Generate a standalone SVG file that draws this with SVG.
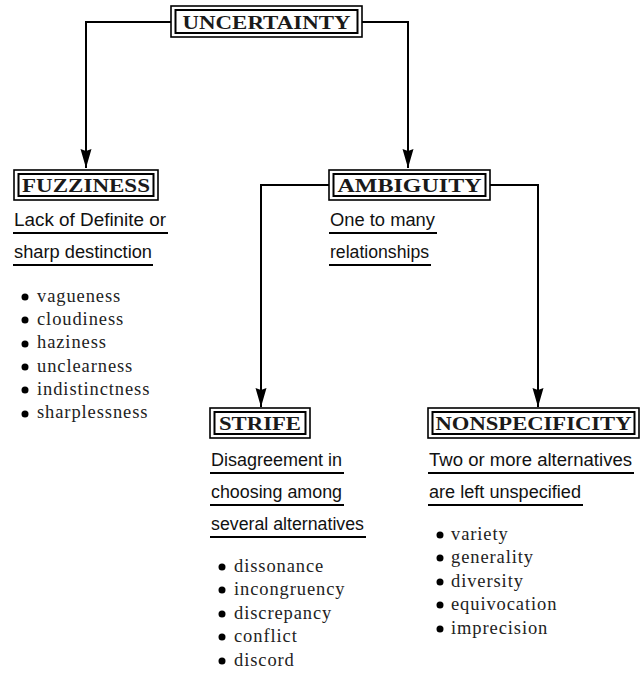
<svg xmlns="http://www.w3.org/2000/svg" width="641" height="675" viewBox="0 0 641 675">
<style>
.ob{fill:#fff;stroke:#000;stroke-width:1.6}
.ib{fill:none;stroke:#000;stroke-width:2}
.t{font-family:"Liberation Serif",serif;font-size:19px;font-weight:bold;fill:#1a1a1a;text-anchor:middle}
.d{font-family:"Liberation Sans",sans-serif;font-size:17.5px;fill:#111}
.ul{stroke:#000;stroke-width:2}
.b{font-family:"Liberation Serif",serif;font-size:18.5px;fill:#222;letter-spacing:0.9px}
.c{fill:none;stroke:#000;stroke-width:2}
</style>
<defs>
<marker id="arr" markerWidth="20" markerHeight="12" refX="19" refY="6" orient="auto" markerUnits="userSpaceOnUse" viewBox="0 0 20 12">
<path d="M0,0.5 L19,6 L0,11.5 L2,6 Z" fill="#000"/>
</marker>
</defs>
<g id="connectors">
<path class="c" d="M171,22 H86 V168" marker-end="url(#arr)"/>
<path class="c" d="M362,22 H408 V168" marker-end="url(#arr)"/>
<path class="c" d="M329,185 H261 V407" marker-end="url(#arr)"/>
<path class="c" d="M490,185 H538 V407" marker-end="url(#arr)"/>
</g>
<g id="uncertainty">
<rect class="ob" x="171" y="6" width="191" height="31"/>
<rect class="ib" x="175.5" y="10" width="182" height="23"/>
<text class="t" x="266.5" y="29" textLength="168" lengthAdjust="spacingAndGlyphs">UNCERTAINTY</text>
</g>
<g id="fuzziness">
<rect class="ob" x="14" y="170" width="144" height="30"/>
<rect class="ib" x="18.5" y="174" width="135" height="22"/>
<text class="t" x="86" y="192" textLength="128" lengthAdjust="spacingAndGlyphs">FUZZINESS</text>
<text class="d" x="14" y="226" textLength="152" lengthAdjust="spacingAndGlyphs">Lack of Definite or</text>
<line class="ul" x1="13" y1="233" x2="168" y2="233"/>
<text class="d" x="14" y="258" textLength="138" lengthAdjust="spacingAndGlyphs">sharp destinction</text>
<line class="ul" x1="13" y1="265" x2="153" y2="265"/>
<circle cx="25" cy="297" r="3.5"/><text class="b" x="37" y="302">vagueness</text>
<circle cx="25" cy="320" r="3.5"/><text class="b" x="37" y="325">cloudiness</text>
<circle cx="25" cy="344" r="3.5"/><text class="b" x="37" y="348">haziness</text>
<circle cx="25" cy="367" r="3.5"/><text class="b" x="37" y="372">unclearness</text>
<circle cx="25" cy="390" r="3.5"/><text class="b" x="37" y="395">indistinctness</text>
<circle cx="25" cy="414" r="3.5"/><text class="b" x="37" y="418">sharplessness</text>
</g>
<g id="ambiguity">
<rect class="ob" x="329" y="170" width="161" height="30"/>
<rect class="ib" x="333.5" y="174" width="152" height="22"/>
<text class="t" x="409.5" y="192" textLength="144" lengthAdjust="spacingAndGlyphs">AMBIGUITY</text>
<text class="d" x="330" y="226" textLength="105" lengthAdjust="spacingAndGlyphs">One to many</text>
<line class="ul" x1="329" y1="233" x2="437" y2="233"/>
<text class="d" x="330" y="258" textLength="99" lengthAdjust="spacingAndGlyphs">relationships</text>
<line class="ul" x1="329" y1="265" x2="431" y2="265"/>
</g>
<g id="strife">
<rect class="ob" x="210" y="408" width="100" height="30"/>
<rect class="ib" x="214.5" y="412" width="91" height="22"/>
<text class="t" x="260" y="430" textLength="82" lengthAdjust="spacingAndGlyphs">STRIFE</text>
<text class="d" x="211" y="466" textLength="131" lengthAdjust="spacingAndGlyphs">Disagreement in</text>
<line class="ul" x1="210" y1="473" x2="344" y2="473"/>
<text class="d" x="211" y="498" textLength="131" lengthAdjust="spacingAndGlyphs">choosing among</text>
<line class="ul" x1="210" y1="505" x2="344" y2="505"/>
<text class="d" x="211" y="530" textLength="153" lengthAdjust="spacingAndGlyphs">several alternatives</text>
<line class="ul" x1="210" y1="537" x2="366" y2="537"/>
<circle cx="222" cy="567" r="3.5"/><text class="b" x="234" y="572">dissonance</text>
<circle cx="222" cy="590" r="3.5"/><text class="b" x="234" y="595">incongruency</text>
<circle cx="222" cy="614" r="3.5"/><text class="b" x="234" y="619">discrepancy</text>
<circle cx="222" cy="637" r="3.5"/><text class="b" x="234" y="642">conflict</text>
<circle cx="222" cy="661" r="3.5"/><text class="b" x="234" y="666">discord</text>
</g>
<g id="nonspecificity">
<rect class="ob" x="428" y="408" width="211" height="30"/>
<rect class="ib" x="432.5" y="412" width="202" height="22"/>
<text class="t" x="533.5" y="430" textLength="196" lengthAdjust="spacingAndGlyphs">NONSPECIFICITY</text>
<text class="d" x="429" y="466" textLength="203" lengthAdjust="spacingAndGlyphs">Two or more alternatives</text>
<line class="ul" x1="428" y1="473" x2="634" y2="473"/>
<text class="d" x="429" y="498" textLength="152" lengthAdjust="spacingAndGlyphs">are left unspecified</text>
<line class="ul" x1="428" y1="505" x2="583" y2="505"/>
<circle cx="440" cy="535" r="3.5"/><text class="b" x="451" y="540">variety</text>
<circle cx="440" cy="558" r="3.5"/><text class="b" x="451" y="563">generality</text>
<circle cx="440" cy="582" r="3.5"/><text class="b" x="451" y="587">diversity</text>
<circle cx="440" cy="605" r="3.5"/><text class="b" x="451" y="610">equivocation</text>
<circle cx="440" cy="629" r="3.5"/><text class="b" x="451" y="634">imprecision</text>
</g>
</svg>
